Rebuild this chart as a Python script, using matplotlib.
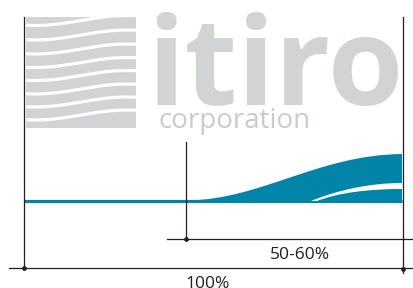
import numpy as np
import matplotlib
matplotlib.use("Agg")
import matplotlib.pyplot as plt
from matplotlib.patches import Rectangle, PathPatch
from matplotlib.path import Path

# labels
span_labels = ["50-60%", "100%"]
logo_word = "itiro"
logo_sub = "corporation"

# teal band outline (pixels): bezier anchors + handles
band_upper = [(188, 200.5), (262, 199), (318, 155), (402, 154)]
gap_top = [(311, 201), (338, 190), (370, 183), (402, 183)]
gap_bottom = [(402, 189), (372, 189), (340, 192), (317, 201)]

# wave stripe centres at the left edge of the logo block
stripe_y = [25.5, 40, 54, 67.5, 80.5, 94, 107, 120]

GREY = "#d1d3d4"
TEAL = "#0085a8"
INK = "#231f20"

fig = plt.figure(figsize=(4.13, 2.88), dpi=100)
ax = fig.add_axes([0, 0, 1, 1])
ax.set_xlim(0, 413)
ax.set_ylim(288, 0)
ax.axis("off")

# wave block
block = Rectangle((26, 17), 110, 111, color=GREY, lw=0, zorder=1)
ax.add_patch(block)
wx = np.linspace(26, 136, 150)
t = (wx - 26) / 110
for y0 in stripe_y:
    wy = y0 - 5 + 5 * np.cos(np.pi * (t * 1.2 - 0.1))
    ln, = ax.plot(wx, wy, color="white", lw=2.3, zorder=2, solid_capstyle="butt")
    ln.set_clip_path(block)

ax.text(147, 105, logo_word, fontsize=88, fontweight="bold", family="Open Sans",
        color=GREY, ha="left", va="baseline")
ax.text(158, 128, logo_sub, fontsize=20, family="Open Sans",
        color="#c9cbcc", ha="left", va="baseline")

# teal band
ax.plot([24, 402], [201, 201], color=TEAL, lw=2.3, solid_capstyle="butt", zorder=3)
verts = band_upper + [(402, 202.3), (188, 202.3), band_upper[0]]
codes = [Path.MOVETO, Path.CURVE4, Path.CURVE4, Path.CURVE4,
         Path.LINETO, Path.LINETO, Path.CLOSEPOLY]
ax.add_patch(PathPatch(Path(verts, codes), color=TEAL, lw=0, zorder=3))
verts = gap_top + gap_bottom[1:] + [gap_top[0]]
verts = gap_top + [gap_bottom[0]] + gap_bottom[1:] + [gap_top[0]]
codes = [Path.MOVETO, Path.CURVE4, Path.CURVE4, Path.CURVE4,
         Path.LINETO, Path.CURVE4, Path.CURVE4, Path.CURVE4, Path.CLOSEPOLY]
ax.add_patch(PathPatch(Path(verts, codes), color="white", lw=0, zorder=4))

# dimension lines
lw = 0.9
ax.plot([24, 24], [17, 268], color=INK, lw=lw, zorder=5)
ax.plot([402.5, 402.5], [17, 273], color=INK, lw=lw, zorder=5)
ax.plot([186, 186], [142, 239], color=INK, lw=lw, zorder=5)
ax.plot([9, 413], [268, 268], color=INK, lw=lw, zorder=5)
ax.plot([167, 413], [239, 239], color=INK, lw=lw, zorder=5)
ax.scatter([24, 402.5, 186], [268, 268.5, 239], s=12, color=INK, zorder=6, lw=0)

ax.text(300, 259, span_labels[0], fontsize=12.5, family="Open Sans",
        color=INK, ha="center", va="baseline")
ax.text(208, 288.5, span_labels[1], fontsize=12.5, family="Open Sans",
        color=INK, ha="center", va="baseline")

fig.savefig("out.png", dpi=100)
